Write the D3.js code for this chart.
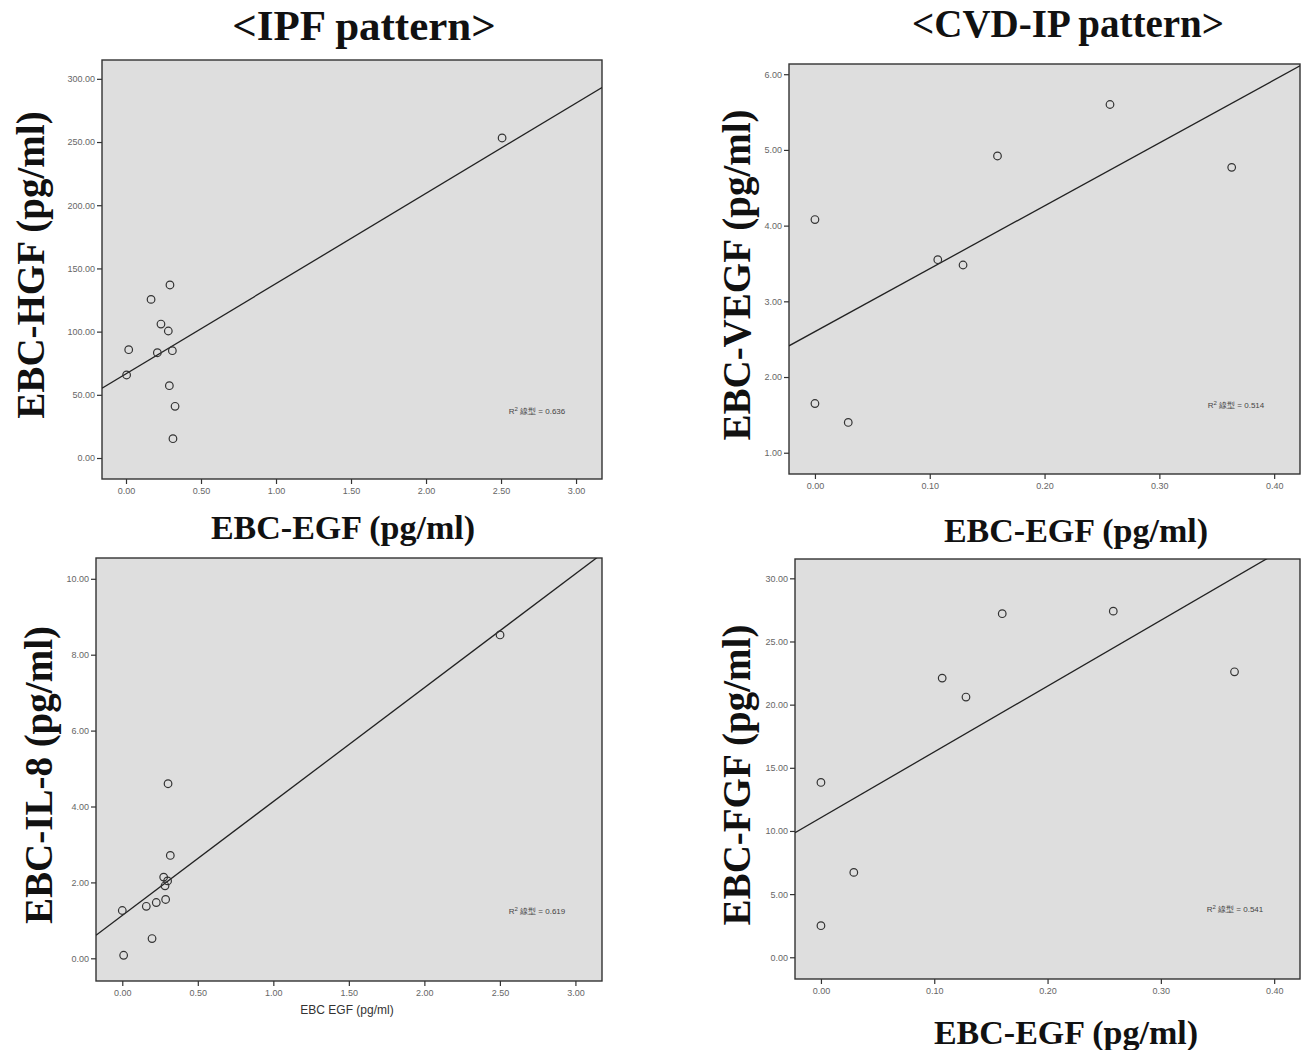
<!DOCTYPE html>
<html>
<head>
<meta charset="utf-8">
<script src="https://cdn.jsdelivr.net/npm/d3@7"></script>
<style>
  html, body { margin: 0; padding: 0; background: #fff; }
  svg { display: block; }
</style>
</head>
<body>
<svg id="chart" width="1304" height="1050"></svg>
<script>
// EBC-EGF (x) against four other exhaled breath condensate markers (y)
const ipfEgf   = [0.293, 0.167, 0.233, 0.282, 0.018, 0.209, 0.309, 0.004, 0.289, 0.327, 0.313, 2.507];
const ipfHgf   = [136.9, 125.5, 106.0, 100.5, 85.7, 83.3, 84.9, 65.7, 57.2, 40.9, 15.3, 253.2];

const cvdEgf   = [0.000, 0.000, 0.029, 0.107, 0.129, 0.159, 0.257, 0.363];
const cvdVegf  = [4.08, 1.65, 1.40, 3.55, 3.48, 4.92, 5.60, 4.77];

const ipfEgf2  = [0.303, 0.318, 0.274, 0.300, 0.283, 0.000, 0.159, 0.225, 0.287, 0.197, 0.009, 2.501];
const ipfIl8   = [4.60, 2.71, 2.14, 2.04, 1.91, 1.26, 1.37, 1.47, 1.55, 0.52, 0.08, 8.52];

const cvdEgf2  = [0.000, 0.029, 0.000, 0.107, 0.128, 0.160, 0.258, 0.365];
const cvdFgf   = [13.84, 6.72, 2.50, 22.1, 20.6, 27.2, 27.4, 22.6];

// linear fit lines (intercept, slope) and their R² values
const fitIntercept = [66.6, 2.60, 1.13, 11.05];
const fitSlope     = [71.4, 8.31, 3.00, 52.1];
const rSquared     = ["0.636", "0.514", "0.619", "0.541"];

// tick values
const xTicksIpf = [0, 0.5, 1, 1.5, 2, 2.5, 3];
const xTicksCvd = [0, 0.1, 0.2, 0.3, 0.4];
const yTicksHgf  = [0, 50, 100, 150, 200, 250, 300];
const yTicksVegf = [1, 2, 3, 4, 5, 6];
const yTicksIl8  = [0, 2, 4, 6, 8, 10];
const yTicksFgf  = [0, 5, 10, 15, 20, 25, 30];

// axis extents
const xDomains = [[-0.16, 3.173], [-0.0226, 0.4225], [-0.174, 3.176], [-0.0229, 0.4228]];
const yDomains = [[-16.6, 314.9], [0.719, 6.135], [-0.598, 10.548], [-1.72, 31.53]];

// column headings and axis titles
const headings = ["<IPF pattern>", "<CVD-IP pattern>"];
const yTitles = ["EBC-HGF (pg/ml)", "EBC-VEGF (pg/ml)", "EBC-IL-8 (pg/ml)", "EBC-FGF (pg/ml)"];
const xTitles = ["EBC-EGF (pg/ml)", "EBC-EGF (pg/ml)", "EBC EGF (pg/ml)", "EBC-EGF (pg/ml)"];

const panels = [
  { xs: ipfEgf,  ys: ipfHgf,  xTicks: xTicksIpf, yTicks: yTicksHgf,
    box: { x0: 102, x1: 602, y0: 60,  y1: 479 },
    yTitle: { x: 30,  y: 265 }, xTitle: { x: 343,  y: 527, big: true },
    r2: { x: 537, y: 414 } },
  { xs: cvdEgf,  ys: cvdVegf, xTicks: xTicksCvd, yTicks: yTicksVegf,
    box: { x0: 789, x1: 1300, y0: 64, y1: 474 },
    yTitle: { x: 736, y: 275 }, xTitle: { x: 1076, y: 530, big: true },
    r2: { x: 1236, y: 408 } },
  { xs: ipfEgf2, ys: ipfIl8,  xTicks: xTicksIpf, yTicks: yTicksIl8,
    box: { x0: 96,  x1: 602, y0: 558, y1: 981 },
    yTitle: { x: 38,  y: 775 }, xTitle: { x: 347,  y: 1010, big: false },
    r2: { x: 537, y: 914 } },
  { xs: cvdEgf2, ys: cvdFgf,  xTicks: xTicksCvd, yTicks: yTicksFgf,
    box: { x0: 795, x1: 1300, y0: 559, y1: 979 },
    yTitle: { x: 736, y: 775 }, xTitle: { x: 1066, y: 1032, big: true },
    r2: { x: 1235, y: 912 } }
];

const svg = d3.select("#chart");
const fmt = d3.format(".2f");
const serif = "'Liberation Serif', 'Times New Roman', serif";
const sans = "'Liberation Sans', Arial, sans-serif";

// column headings
svg.append("text").attr("x", 364).attr("y", 40)
  .attr("text-anchor", "middle").attr("font-family", serif)
  .attr("font-weight", "bold").attr("font-size", 43).attr("fill", "#111")
  .text(headings[0]);
svg.append("text").attr("x", 1068).attr("y", 37)
  .attr("text-anchor", "middle").attr("font-family", serif)
  .attr("font-weight", "bold").attr("font-size", 39).attr("fill", "#111")
  .text(headings[1]);

panels.forEach((p, i) => {
  const b = p.box;
  const x = d3.scaleLinear().domain(xDomains[i]).range([b.x0, b.x1]);
  const y = d3.scaleLinear().domain(yDomains[i]).range([b.y1, b.y0]);
  const g = svg.append("g");

  const clipId = "clip" + i;
  svg.append("clipPath").attr("id", clipId)
    .append("rect").attr("x", b.x0).attr("y", b.y0)
    .attr("width", b.x1 - b.x0).attr("height", b.y1 - b.y0);

  // plot background
  g.append("rect").attr("x", b.x0).attr("y", b.y0)
    .attr("width", b.x1 - b.x0).attr("height", b.y1 - b.y0)
    .attr("fill", "#dedede");

  // axes
  const xAxis = d3.axisBottom(x).tickValues(p.xTicks).tickFormat(fmt)
    .tickSizeOuter(0).tickSizeInner(5).tickPadding(4);
  const yAxis = d3.axisLeft(y).tickValues(p.yTicks).tickFormat(fmt)
    .tickSizeOuter(0).tickSizeInner(5).tickPadding(2);

  const gx = g.append("g").attr("transform", `translate(0,${b.y1})`).call(xAxis);
  const gy = g.append("g").attr("transform", `translate(${b.x0},0)`).call(yAxis);
  [gx, gy].forEach(a => {
    a.select(".domain").remove();
    a.selectAll("line").attr("stroke", "#333").attr("stroke-width", 1.2);
    a.selectAll("text").attr("font-family", sans).attr("font-size", 9)
      .attr("fill", "#666");
  });

  // frame
  g.append("rect").attr("x", b.x0).attr("y", b.y0)
    .attr("width", b.x1 - b.x0).attr("height", b.y1 - b.y0)
    .attr("fill", "none").attr("stroke", "#333").attr("stroke-width", 1.4);

  // fit line
  const f = v => fitIntercept[i] + fitSlope[i] * v;
  g.append("line")
    .attr("clip-path", `url(#${clipId})`)
    .attr("x1", x(xDomains[i][0])).attr("y1", y(f(xDomains[i][0])))
    .attr("x2", x(xDomains[i][1])).attr("y2", y(f(xDomains[i][1])))
    .attr("stroke", "#222").attr("stroke-width", 1.3);

  // observations
  g.selectAll("circle.pt").data(p.xs.map((v, k) => [v, p.ys[k]]))
    .join("circle").attr("class", "pt")
    .attr("cx", d => x(d[0])).attr("cy", d => y(d[1]))
    .attr("r", 3.8).attr("fill", "none")
    .attr("stroke", "#333").attr("stroke-width", 1.2);

  // R² annotation
  const r2 = g.append("text").attr("x", p.r2.x).attr("y", p.r2.y)
    .attr("text-anchor", "middle").attr("font-family", sans)
    .attr("font-size", 8).attr("fill", "#444");
  r2.append("tspan").text("R");
  r2.append("tspan").attr("dy", -3).attr("font-size", 6).text("2");
  r2.append("tspan").attr("dy", 3).text(" 線型 = " + rSquared[i]);

  // y axis title
  svg.append("text")
    .attr("transform", `translate(${p.yTitle.x},${p.yTitle.y}) rotate(-90)`)
    .attr("text-anchor", "middle").attr("dominant-baseline", "central")
    .attr("font-family", serif).attr("font-weight", "bold")
    .attr("font-size", 39).attr("fill", "#111")
    .text(yTitles[i]);

  // x axis title
  if (p.xTitle.big) {
    svg.append("text").attr("x", p.xTitle.x).attr("y", p.xTitle.y)
      .attr("text-anchor", "middle").attr("dominant-baseline", "central")
      .attr("font-family", serif).attr("font-weight", "bold")
      .attr("font-size", 34).attr("fill", "#111")
      .text(xTitles[i]);
  } else {
    svg.append("text").attr("x", p.xTitle.x).attr("y", p.xTitle.y)
      .attr("text-anchor", "middle").attr("dominant-baseline", "central")
      .attr("font-family", sans).attr("font-size", 12).attr("fill", "#333")
      .text(xTitles[i]);
  }
});
</script>
</body>
</html>
